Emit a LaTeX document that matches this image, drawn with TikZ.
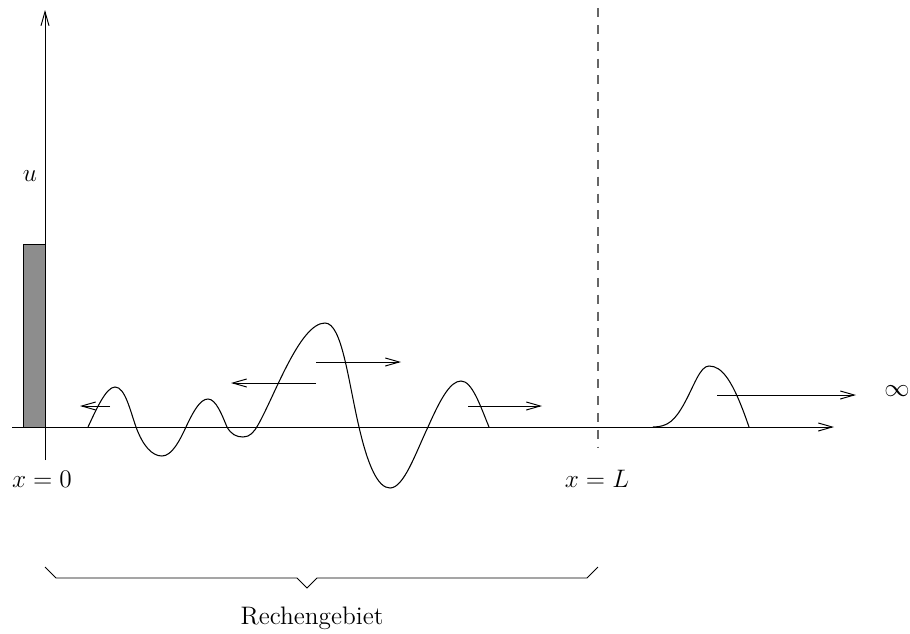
\documentclass[tikz,border=0pt]{standalone}
\usetikzlibrary{arrows.meta}
\begin{document}
\begin{tikzpicture}[x=0.02cm,y=-0.02cm,
  line width=0.55pt,
  arr/.style={-{Straight Barb[length=8pt,width=4.6pt,line width=0.55pt]}},
  lbl/.style={font=\Large,inner sep=0pt},
  wave/.style={line width=0.6pt}]
\useasboundingbox (0,0) rectangle (910,633);
% gray bar
\draw[fill={rgb,255:red,141;green,141;blue,141}] (23,244) rectangle (45,427);
% axes
\coordinate (ybot) at (45,460);
\coordinate (ytop) at (45,10);
\coordinate (xl) at (12,427);
\coordinate (xr) at (834,427);
\draw[arr] (ybot) -- (ytop);
\draw[arr] (xl) -- (xr);
% dashed line
\coordinate (dtop) at (598,8);
\coordinate (dbot) at (598,448);
\draw[dash pattern=on 5.1pt off 4.5pt,line width=0.85pt,draw=black!60] (dtop) -- (dbot);
% labels
\node[lbl] (u) at (30,176) {$u$};
\node[lbl] (x0) at (42,479) {$x=0$};
\node[lbl] (xL) at (597,479) {$x=L$};
\node[lbl] (inf) at (897,391) {$\infty$};
\node[lbl] (rg) at (312,618) {Rechengebiet};
% wave
\draw[wave] (88,427) .. controls (96,410) and (106,387) .. (115,387)
  .. controls (125,387) and (130,410) .. (136,427)
  .. controls (143,446) and (152,456) .. (162,456)
  .. controls (172,456) and (180,440) .. (186,427)
  .. controls (193,412) and (200,399) .. (208,399)
  .. controls (216,399) and (222,415) .. (227,427)
  .. controls (231,434) and (236,437) .. (243,437)
  .. controls (250,437) and (254,432) .. (258,425)
  .. controls (275,395) and (300,323) .. (325,323)
  .. controls (342,323) and (348,380) .. (359,427)
  .. controls (368,466) and (378,488) .. (390,488)
  .. controls (404,488) and (416,452) .. (428,427)
  .. controls (440,400) and (450,381) .. (461,381)
  .. controls (472,381) and (480,405) .. (489,427);
% right pulse
\draw[wave] (653,427) .. controls (668,427) and (675,420) .. (684,404)
  .. controls (694,386) and (700,366) .. (709,366)
  .. controls (722,366) and (733,380) .. (749,427);
% arrows
\coordinate (a1s) at (110,406); \coordinate (a1e) at (80,406);
\coordinate (a2s) at (316,383); \coordinate (a2e) at (231,383);
\coordinate (a3s) at (316,362); \coordinate (a3e) at (401,362);
\coordinate (a4s) at (468,406); \coordinate (a4e) at (542,406);
\coordinate (a5s) at (717,395); \coordinate (a5e) at (856,395);
\draw[arr] (a1s) -- (a1e);
\draw[arr] (a2s) -- (a2e);
\draw[arr] (a3s) -- (a3e);
\draw[arr] (a4s) -- (a4e);
\draw[arr] (a5s) -- (a5e);
% brace
\draw (45,567) -- (56,578) -- (297,578) -- (307,588) -- (317,578) -- (587,578) -- (598,567);
\end{tikzpicture}
\end{document}
